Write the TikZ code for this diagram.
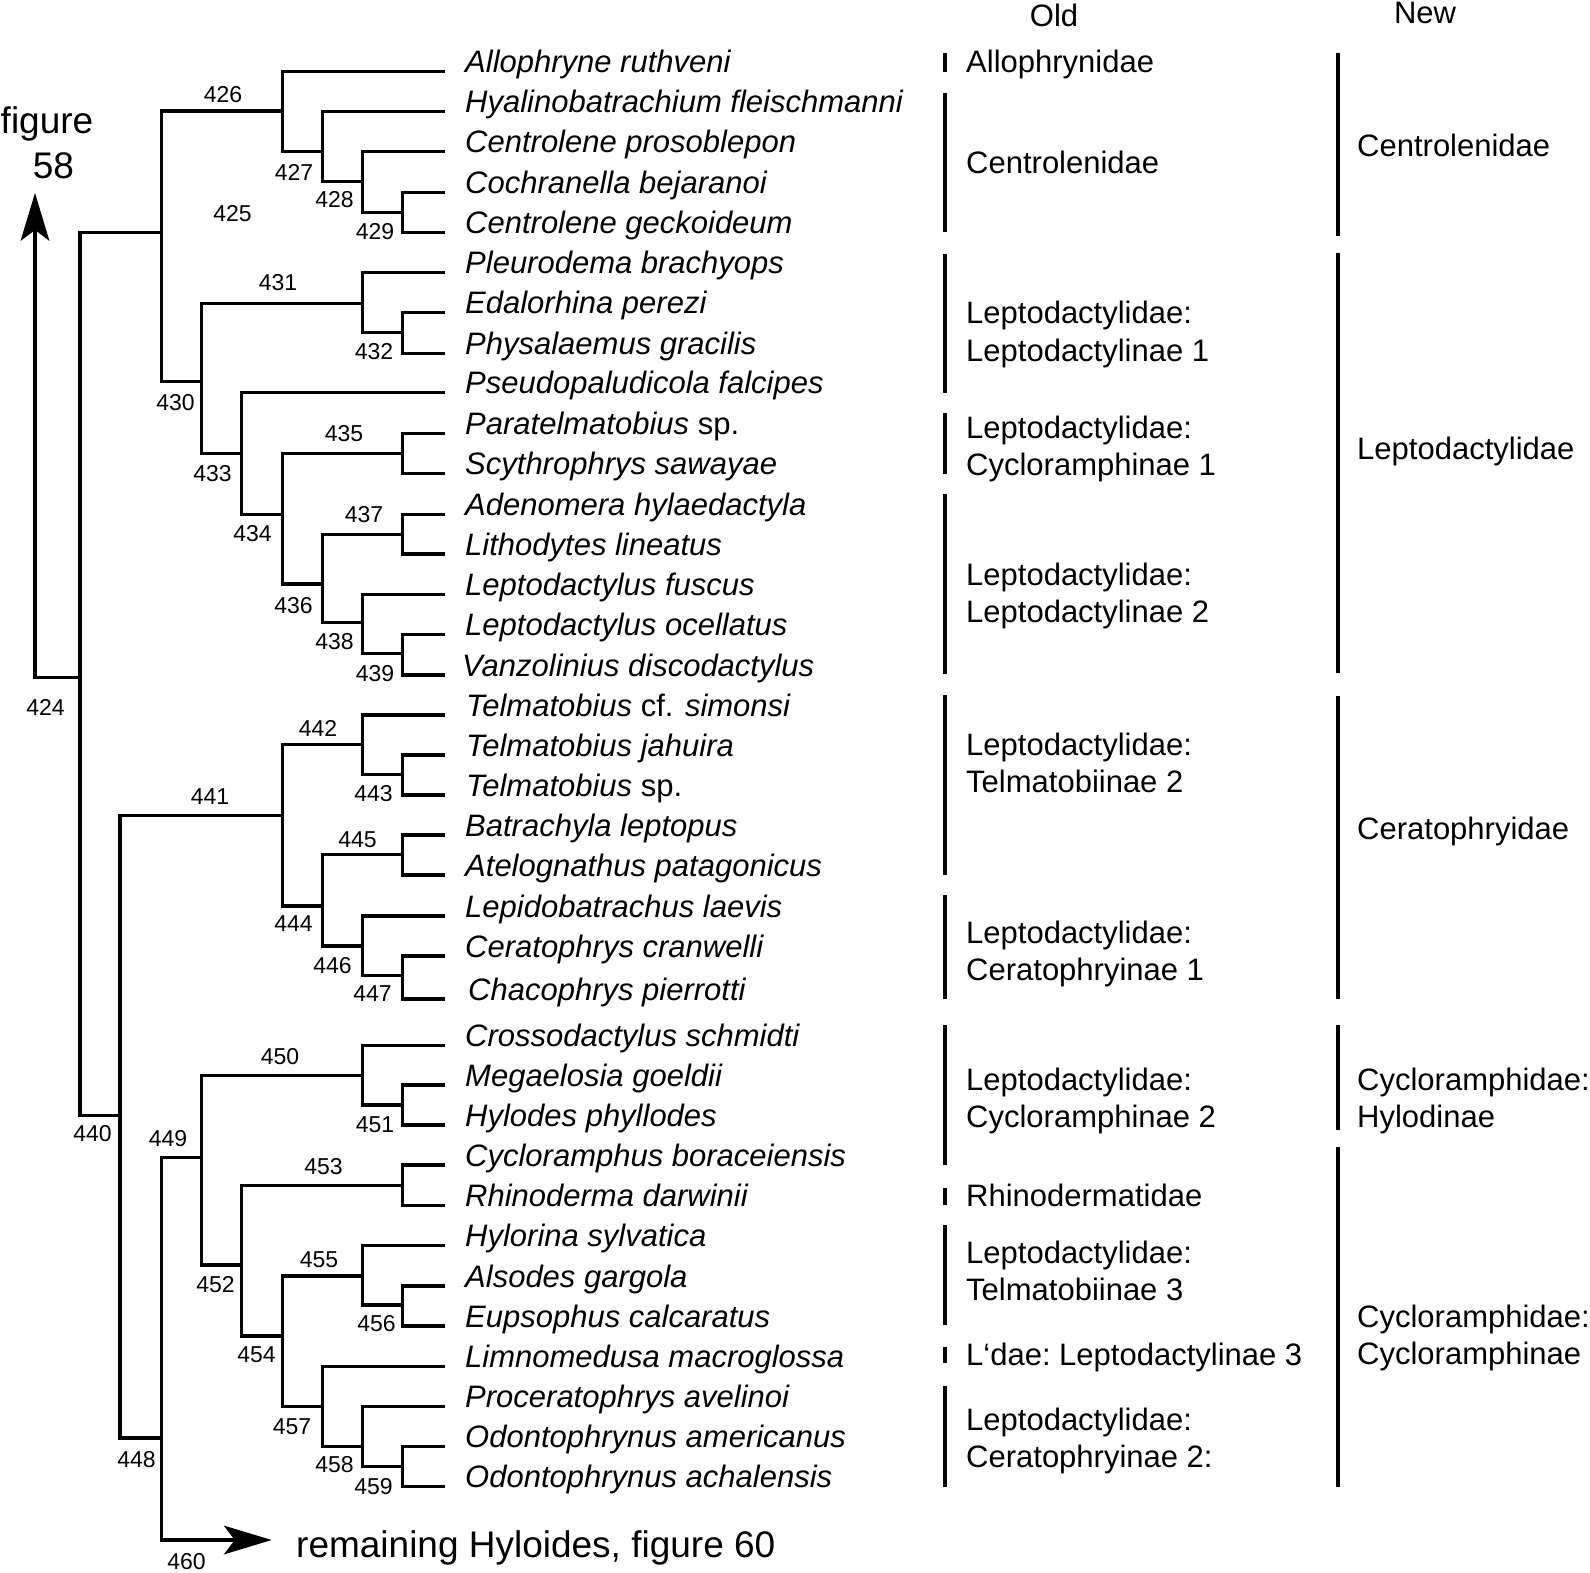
\documentclass[tikz,border=0pt]{standalone}
\usepackage{fontspec}
\setmainfont{Liberation Sans}
\usetikzlibrary{arrows.meta}
\begin{document}
\begin{tikzpicture}[x=1pt,y=-1pt,
  br/.style={line width=3.2pt},
  sp/.style={anchor=base west, inner sep=0pt, font=\fontsize{31}{37}\selectfont\itshape},
  grp/.style={anchor=base west, inner sep=0pt, font=\fontsize{31}{37}\selectfont},
  big/.style={inner sep=0pt, font=\fontsize{37}{44}\selectfont},
  num/.style={inner sep=0pt, font=\fontsize{23}{27}\selectfont},
  obar/.style={line width=4pt},
  nbar/.style={line width=3.5pt},
  tip/.style={-{Stealth[length=48pt,width=29pt,inset=11pt,line width=0pt]}}]
\fill[white] (0,0) rectangle (1590,1573);
\useasboundingbox (0,0) rectangle (1590,1573);

% internal nodes
\coordinate (n424) at (80,677.7);
\coordinate (n425) at (161.7,232.7);
\coordinate (n426) at (282.5,111);
\coordinate (n427) at (322.8,151.7);
\coordinate (n428) at (362.8,181.7);
\coordinate (n429) at (402.8,212.7);
\coordinate (n430) at (201.7,381.7);
\coordinate (n431) at (362.8,303.3);
\coordinate (n432) at (402.8,332.7);
\coordinate (n433) at (241.7,453.3);
\coordinate (n434) at (282.5,514.3);
\coordinate (n435) at (402.8,453.3);
\coordinate (n436) at (322.8,584);
\coordinate (n437) at (402.8,534.3);
\coordinate (n438) at (362.8,622.7);
\coordinate (n439) at (402.8,653.3);
\coordinate (n440) at (120,1115.7);
\coordinate (n441) at (282.5,815.7);
\coordinate (n442) at (362.8,744.3);
\coordinate (n443) at (402.8,774.3);
\coordinate (n444) at (322.8,906);
\coordinate (n445) at (402.8,854.3);
\coordinate (n446) at (362.8,946);
\coordinate (n447) at (402.8,975.3);
\coordinate (n448) at (161.7,1438);
\coordinate (n449) at (201.7,1157.3);
\coordinate (n450) at (362.8,1075.7);
\coordinate (n451) at (402.8,1105);
\coordinate (n452) at (241.7,1265);
\coordinate (n453) at (402.8,1185.7);
\coordinate (n454) at (282.5,1336);
\coordinate (n455) at (362.8,1276);
\coordinate (n456) at (402.8,1305);
\coordinate (n457) at (322.8,1406.7);
\coordinate (n458) at (362.8,1446.7);
\coordinate (n459) at (402.8,1466.7);
\coordinate (t58) at (35,193);
\coordinate (t460) at (271.7,1540);

% leaves and species names
\foreach \i/\y/\dx/\name in {
 1/71.7/0/{Allophryne ruthveni},
 2/111.7/0/{Hyalinobatrachium fleischmanni},
 3/151.7/0/{Centrolene prosoblepon},
 4/192.3/0/{Cochranella bejaranoi},
 5/232.7/0/{Centrolene geckoideum},
 6/272.3/0/{Pleurodema brachyops},
 7/312.7/0/{Edalorhina perezi},
 8/353.3/0/{Physalaemus gracilis},
 9/392.7/0/{Pseudopaludicola falcipes},
 10/433.3/0/{Paratelmatobius \upshape sp.},
 11/473.3/0/{Scythrophrys sawayae},
 12/514.3/0/{Adenomera hylaedactyla},
 13/554/0/{Lithodytes lineatus},
 14/594.3/0/{Leptodactylus fuscus},
 15/634.3/0/{Leptodactylus ocellatus},
 16/675/-3/{Vanzolinius discodactylus},
 17/715/1/{Telmatobius {\upshape cf.} simonsi},
 18/755/1/{Telmatobius jahuira},
 19/795/1/{Telmatobius \upshape sp.},
 20/835/0/{Batrachyla leptopus},
 21/875/0/{Atelognathus patagonicus},
 22/916/0/{Lepidobatrachus laevis},
 23/956/0/{Ceratophrys cranwelli},
 24/999/3/{Chacophrys pierrotti},
 25/1045.7/0/{Crossodactylus schmidti},
 26/1085/0/{Megaelosia goeldii},
 27/1125/0/{Hylodes phyllodes},
 28/1165/0/{Cycloramphus boraceiensis},
 29/1205.7/0/{Rhinoderma darwinii},
 30/1245.7/0/{Hylorina sylvatica},
 31/1286/0/{Alsodes gargola},
 32/1326/0/{Eupsophus calcaratus},
 33/1366.7/0/{Limnomedusa macroglossa},
 34/1406.7/0/{Proceratophrys avelinoi},
 35/1446.7/0/{Odontophrynus americanus},
 36/1486.7/0/{Odontophrynus achalensis}}
{
 \coordinate (l\i) at (445,\y);
 \node[sp] (s\i) at (465+\dx,\y+1) {\name};
}

% branches
\foreach \p/\c in {n424/n425, n424/n440, n425/n426, n425/n430, n426/l1, n426/n427,
 n427/l2, n427/n428, n428/l3, n428/n429, n429/l4, n429/l5, n430/n431, n430/n433,
 n431/l6, n431/n432, n432/l7, n432/l8, n433/l9, n433/n434, n434/n435, n434/n436,
 n435/l10, n435/l11, n436/n437, n436/n438, n437/l12, n437/l13, n438/l14, n438/n439,
 n439/l15, n439/l16, n440/n441, n440/n448, n441/n442, n441/n444, n442/l17, n442/n443,
 n443/l18, n443/l19, n444/n445, n444/n446, n445/l20, n445/l21, n446/l22, n446/n447,
 n447/l23, n447/l24, n448/n449, n449/n450, n449/n452, n450/l25, n450/n451,
 n451/l26, n451/l27, n452/n453, n452/n454, n453/l28, n453/l29, n454/n455, n454/n457,
 n455/l30, n455/n456, n456/l31, n456/l32, n457/l33, n457/n458, n458/l34, n458/n459,
 n459/l35, n459/l36}
{ \draw[br] (\p) |- (\c); }

% arrows to other figures
\draw[br,tip] (n424) -| (t58);
\draw[br,tip] (n448) |- (t460);
\node[big, anchor=base] (f58a) at (47,134) {figure};
\node[big, anchor=base] (f58b) at (53.5,179) {58};
\node[big, anchor=base west] (rem) at (296,1557) {remaining Hyloides, figure 60};

% node numbers
\foreach \n/\x/\y in {424/45.5/707.5, 425/232.5/214, 426/223/94.5, 427/294/172,
 428/334.5/200, 429/375/231.5, 430/175.5/403, 431/278/283, 432/374/351.5,
 433/212.5/473.5, 434/252.5/533.5, 435/344/433.5, 436/293.5/606, 437/364/515,
 438/334.5/641.5, 439/375/673.5, 440/92.5/1133.5, 441/210/796.5, 442/318/728.5,
 443/373.5/793.5, 444/293.5/923.5, 445/357.5/839.5, 446/332.5/965.5,
 447/372.5/993.5, 448/136.5/1460, 449/168/1138.5, 450/280/1056.5, 451/375/1125,
 452/215.5/1284.5, 453/323.5/1166.5, 454/256.5/1355, 455/319/1260,
 456/376.5/1323.5, 457/292/1426.5, 458/334.5/1465, 459/373.5/1486.5,
 460/186.5/1561.5}
{ \node[num] (lab\n) at (\x,\y) {\n}; }

% headers
\node[grp, anchor=base] (hold) at (1054,27) {Old};
\node[grp, anchor=base] (hnew) at (1425,24) {New};

% old classification bars
\foreach \a/\b in {53/72, 92.7/232.5, 254/393, 413/474, 494/674, 695/875, 895/999,
 1025/1165, 1188/1205, 1225/1325, 1347/1363, 1386/1487}
{ \draw[obar] (945,\a) -- (945,\b); }

% old classification labels
\foreach \k/\y/\t in {a/73/Allophrynidae, b/174/Centrolenidae,
 c1/323/Leptodactylidae:, c2/361/Leptodactylinae 1,
 d1/438/Leptodactylidae:, d2/475/Cycloramphinae 1,
 e1/585/Leptodactylidae:, e2/622/Leptodactylinae 2,
 f1/755/Leptodactylidae:, f2/792/Telmatobiinae 2,
 g1/943/Leptodactylidae:, g2/980/Ceratophryinae 1,
 h1/1090/Leptodactylidae:, h2/1127/Cycloramphinae 2,
 i/1206/Rhinodermatidae,
 j1/1263/Leptodactylidae:, j2/1300/Telmatobiinae 3,
 k/1365/L‘dae:\ Leptodactylinae 3,
 m1/1430/Leptodactylidae:, m2/1467/Ceratophryinae 2:}
{ \node[grp] (old\k) at (966,\y) {\t}; }

% new classification bars
\foreach \a/\b in {53/236, 253/673, 696/999, 1025/1130, 1147/1487}
{ \draw[nbar] (1338,\a) -- (1338,\b); }

% new classification labels
\foreach \k/\y/\t in {a/157/Centrolenidae, b/459/Leptodactylidae, c/839/Ceratophryidae,
 d1/1090/Cycloramphidae:, d2/1127/Hylodinae,
 e1/1327/Cycloramphidae:, e2/1364/Cycloramphinae}
{ \node[grp] (new\k) at (1357,\y) {\t}; }
\end{tikzpicture}
\end{document}
